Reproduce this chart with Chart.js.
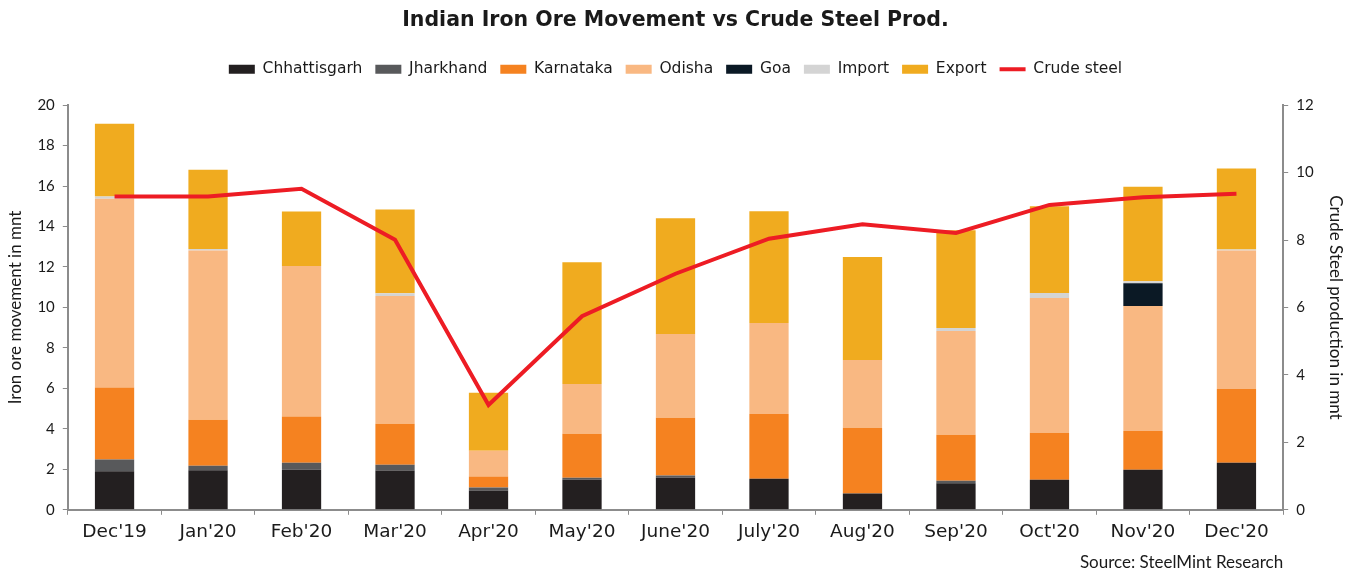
<!DOCTYPE html>
<html>
<head>
<meta charset="utf-8">
<script src="https://cdn.jsdelivr.net/npm/chart.js@4"></script>
<style>
  body { margin: 0; background: #fff; }
  #wrap { width: 1356px; height: 575px; }
</style>
</head>
<body>
<div id="wrap"><canvas id="oreChart" width="1356" height="575"></canvas></div>
<script>
// categories
const months = ["Dec'19", "Jan'20", "Feb'20", "Mar'20", "Apr'20", "May'20", "June'20", "July'20", "Aug'20", "Sep'20", "Oct'20", "Nov'20", "Dec'20"];

// iron ore movement, mnt (stacked)
const chhattisgarh = [1.90, 1.95, 1.98, 1.94, 0.95, 1.49, 1.59, 1.54, 0.80, 1.31, 1.49, 1.98, 2.33];
const jharkhand    = [0.58, 0.23, 0.35, 0.29, 0.15, 0.10, 0.10, 0.00, 0.00, 0.13, 0.00, 0.00, 0.00];
const karnataka    = [3.56, 2.27, 2.28, 2.02, 0.54, 2.17, 2.86, 3.20, 3.25, 2.27, 2.32, 1.92, 3.64];
const odisha       = [9.33, 8.37, 7.44, 6.31, 1.28, 2.46, 4.14, 4.49, 3.35, 5.12, 6.66, 6.17, 6.85];
const goa          = [0, 0, 0, 0, 0, 0, 0, 0, 0, 0, 0, 1.13, 0];
const imports      = [0.11, 0.07, 0, 0.14, 0, 0, 0, 0, 0, 0.15, 0.24, 0.10, 0.05];
const exports      = [3.60, 3.92, 2.69, 4.14, 2.86, 6.01, 5.72, 5.52, 5.09, 4.83, 4.29, 4.67, 4.00];

// crude steel production, mnt (right axis)
const crudeSteel = [9.29, 9.29, 9.52, 8.01, 3.11, 5.74, 7.00, 8.04, 8.47, 8.21, 9.04, 9.27, 9.37];

const leftTicks = [0, 2, 4, 6, 8, 10, 12, 14, 16, 18, 20];
const rightTicks = [0, 2, 4, 6, 8, 10, 12];
const sourceNote = 'Source: SteelMint Research';

const axisGrey = '#8c8c8c';
const textColor = '#1a1a1a';
const wideFont = "'DejaVu Sans', sans-serif";
const axisFont = "Lato, 'Open Sans', sans-serif";

function barSet(label, data, color) {
  return {
    type: 'bar',
    label: label,
    data: data,
    backgroundColor: color,
    borderWidth: 0,
    yAxisID: 'y',
    stack: 'ore',
    order: 1,
    barPercentage: 0.42,
    categoryPercentage: 1
  };
}

// extra room under the legend, and the source line under the x axis
const layoutTweaks = {
  id: 'layoutTweaks',
  beforeInit(chart) {
    const lg = chart.legend;
    const origFit = lg.fit;
    lg.fit = function() {
      origFit.call(this);
      this.height += 18;
    };
  },
  afterDraw(chart) {
    const c = chart.ctx;
    c.save();
    c.font = '17px ' + axisFont;
    c.fillStyle = textColor;
    c.textAlign = 'right';
    c.textBaseline = 'middle';
    c.fillText(sourceNote, chart.chartArea.right, 563);
    c.restore();
  }
};

const ctx = document.getElementById('oreChart').getContext('2d');

new Chart(ctx, {
  data: {
    labels: months,
    datasets: [
      barSet('Chhattisgarh', chhattisgarh, '#231f20'),
      barSet('Jharkhand', jharkhand, '#58595b'),
      barSet('Karnataka', karnataka, '#f58220'),
      barSet('Odisha', odisha, '#f9b882'),
      barSet('Goa', goa, '#0b1925'),
      barSet('Import', imports, '#d4d4d4'),
      barSet('Export', exports, '#f0ab1f'),
      {
        type: 'line',
        label: 'Crude steel',
        data: crudeSteel,
        borderColor: '#ed1c24',
        backgroundColor: '#ed1c24',
        borderWidth: 4,
        pointRadius: 0,
        tension: 0,
        yAxisID: 'y1',
        order: 0
      }
    ]
  },
  plugins: [layoutTweaks],
  options: {
    responsive: false,
    animation: false,
    layout: {
      padding: { top: 6, right: 6, bottom: 26, left: 1 }
    },
    plugins: {
      title: {
        display: true,
        text: 'Indian Iron Ore Movement vs Crude Steel Prod.',
        color: textColor,
        font: { family: wideFont, size: 20.5, weight: 'bold' },
        padding: { top: 2, bottom: 16 }
      },
      legend: {
        display: true,
        labels: {
          color: textColor,
          font: { family: wideFont, size: 15.5 },
          usePointStyle: true,
          pointStyleWidth: 26,
          boxHeight: 9,
          padding: 13,
          sort: (a, b) => a.datasetIndex - b.datasetIndex,
          generateLabels: function(chart) {
            const items = Chart.defaults.plugins.legend.labels.generateLabels(chart);
            items.forEach(function(it) {
              const ds = chart.data.datasets[it.datasetIndex];
              if (ds.type === 'line') {
                it.pointStyle = 'line';
                it.strokeStyle = '#ed1c24';
                it.lineWidth = 4;
              } else {
                it.pointStyle = 'rect';
                it.lineWidth = 0;
              }
            });
            return items;
          }
        }
      },
      tooltip: { enabled: false }
    },
    scales: {
      x: {
        offset: true,
        grid: { offset: true, drawOnChartArea: false, color: axisGrey, tickLength: 5 },
        border: { color: axisGrey, width: 2 },
        ticks: { color: textColor, font: { family: wideFont, size: 18.5 }, padding: 6 }
      },
      y: {
        position: 'left',
        stacked: true,
        min: 0,
        max: 20,
        afterBuildTicks: function(axis) { axis.ticks = leftTicks.map(v => ({ value: v })); },
        grid: { drawOnChartArea: false, color: axisGrey, tickLength: 5 },
        border: { color: axisGrey, width: 2 },
        ticks: { color: textColor, font: { family: axisFont, size: 15 }, padding: 8 },
        title: {
          display: true,
          text: 'Iron ore movement in mnt',
          color: textColor,
          font: { family: axisFont, size: 17 },
          padding: { bottom: 4 }
        }
      },
      y1: {
        position: 'right',
        min: 0,
        max: 12,
        afterBuildTicks: function(axis) { axis.ticks = rightTicks.map(v => ({ value: v })); },
        grid: { drawOnChartArea: false, color: axisGrey, tickLength: 5 },
        border: { color: axisGrey, width: 2 },
        ticks: { color: textColor, font: { family: axisFont, size: 15 }, padding: 8 },
        title: {
          display: true,
          text: 'Crude Steel production in mnt',
          color: textColor,
          font: { family: axisFont, size: 17 },
          padding: { top: 4 }
        }
      }
    }
  }
});
</script>
</body>
</html>
